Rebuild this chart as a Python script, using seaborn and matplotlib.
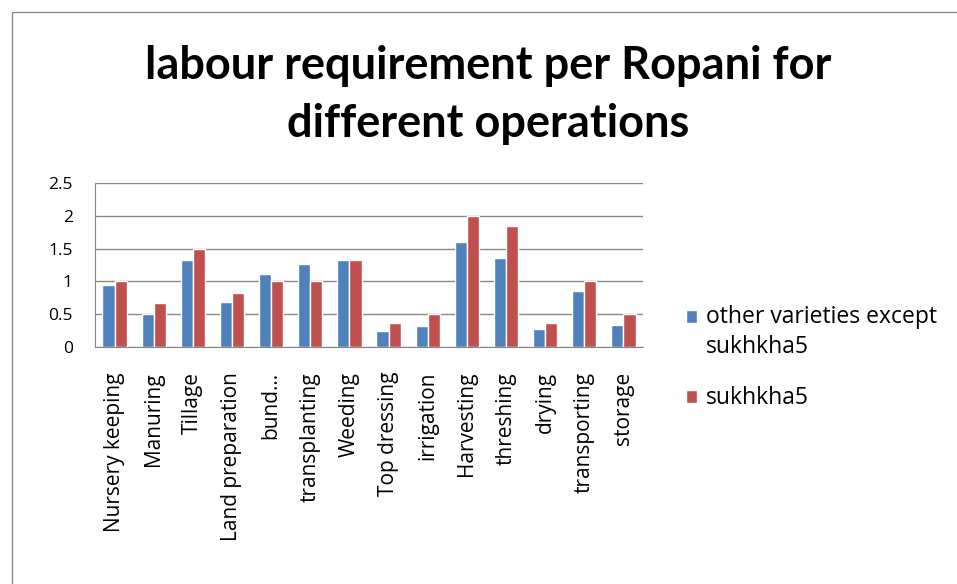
import matplotlib
matplotlib.use('Agg')
import matplotlib.pyplot as plt
import pandas as pd
import seaborn as sns
from matplotlib.patches import Rectangle

# data
operations = ['Nursery keeping', 'Manuring', 'Tillage', 'Land preparation', 'bund...',
              'transplanting', 'Weeding', 'Top dressing', 'irrigation', 'Harvesting',
              'threshing', 'drying', 'transporting', 'storage']
other_varieties = [0.95, 0.5, 1.33, 0.68, 1.11, 1.26, 1.32, 0.25, 0.32, 1.6, 1.35, 0.28, 0.86, 0.34]
sukhkha5 = [1.0, 0.67, 1.5, 0.83, 1.0, 1.0, 1.32, 0.37, 0.5, 2.0, 1.84, 0.37, 1.0, 0.5]
series_names = ['other varieties except\nsukhkha5', 'sukhkha5']
yticks = [0, 0.5, 1, 1.5, 2, 2.5]
ytick_labels = ['0', '0.5', '1', '1.5', '2', '2.5']

df = pd.DataFrame({'operation': operations * 2,
                   'value': other_varieties + sukhkha5,
                   'series': [series_names[0]] * len(operations) + [series_names[1]] * len(operations)})

sns.set_style('white')
plt.rcParams['font.family'] = ['Open Sans', 'DejaVu Sans']
plt.rcParams['text.color'] = 'black'
plt.rcParams['xtick.color'] = 'black'
plt.rcParams['ytick.color'] = 'black'

fig = plt.figure(figsize=(9.57, 5.84), dpi=100)
W, H = 957, 584
ax = fig.add_axes([95 / W, 1 - 347 / H, (643 - 95) / W, (347 - 183) / H])

sns.barplot(data=df, x='operation', y='value', hue='series', order=operations,
            hue_order=series_names, palette=['#4f81bd', '#c0504d'], width=0.62,
            saturation=1, ax=ax, legend=True)

ax.set_ylim(0, 2.5)
ax.set_yticks(yticks)
ax.set_yticklabels(ytick_labels, fontsize=12.5)
ax.set_xlim(-0.5, len(operations) - 0.5)
ax.set_xticks(range(len(operations)))
ax.set_xticklabels(operations, rotation=90, fontsize=15, ha='center', va='top')
ax.set_xlabel('')
ax.set_ylabel('')
ax.yaxis.grid(True, color='#888888', linewidth=1)
ax.set_axisbelow(True)
for s in ['top', 'right']:
    ax.spines[s].set_visible(False)
for s in ['left', 'bottom']:
    ax.spines[s].set_color('#888888')
ax.tick_params(axis='y', length=0, pad=16)
ax.tick_params(axis='x', length=0, pad=18)

leg = ax.legend(loc='upper left', bbox_to_anchor=(665 / W, 1 - 284 / H), bbox_transform=fig.transFigure,
                frameon=False, fontsize=16.5, handlelength=0.5, handleheight=0.5, handletextpad=0.4,
                labelspacing=1.2)
for t in leg.get_texts():
    t.set_linespacing(1.35)
# first handle sits on the first line of its two-line label
h0 = leg.legend_handles[0]
h0.set_y(h0.get_y() + 11.5)

fig.text(488 / W, 1 - 95 / H, 'labour requirement per Ropani for\ndifferent operations',
         ha='center', va='center', fontsize=32.5, fontweight='bold', linespacing=1.45,
         family=['Lato', 'DejaVu Sans'])

# chart frame
fig.patches.append(Rectangle((12 / W, -0.1), 1.2, 1 - 12 / H + 0.1, transform=fig.transFigure,
                             fill=False, edgecolor='#888888', linewidth=1))

fig.savefig('out.png', dpi=100)
